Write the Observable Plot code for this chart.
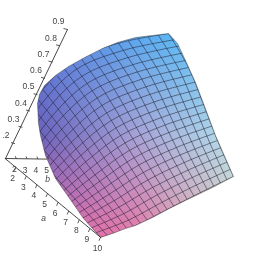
<!DOCTYPE html>
<html><head><meta charset="utf-8">
<style>html,body{margin:0;padding:0;background:#fff}svg{display:block}</style>
<script src="https://cdn.jsdelivr.net/npm/d3@7"></script>
<script src="https://cdn.jsdelivr.net/npm/@observablehq/plot@0.6"></script>
</head><body><script>
const aTicks=[2,3,4,5,6,7,8,9,10];
const bTicks=[2,3,4,5];
const zTicks=[0.2,0.3,0.4,0.5,0.6,0.7,0.8,0.9];
const zLabels=[".2","0.3","0.4","0.5","0.6","0.7","0.8","0.9"];
// surface mesh, in view-plane units: one family of grid lines
const meshRows=[
[100,237,133,226,166.5,209,200,192,233,176],
[95.5,232.2,128.2,219.5,161.8,201.6,195.9,184.5,229.8,168.8],
[91,227.3,123.3,213.1,157,194.2,191.8,177,226.6,161.6],
[86.5,222.5,118.5,206.6,152.3,186.8,187.8,169.5,223.4,154.4],
[82,217.6,113.6,200.2,147.5,179.4,183.7,162,220.2,147.2],
[77.5,212.8,108.8,193.7,142.8,172,179.6,154.5,217,140],
[73,207.9,104.1,187.2,138.2,164.6,175.9,147,214.2,132.8],
[68.5,203,99.3,180.8,133.7,157.2,172.1,139.5,211.4,125.6],
[64,198.2,94.6,174.3,129.1,149.8,168.4,132,208.6,118.4],
[59.5,193.3,89.8,167.9,124.6,142.4,164.6,124.5,205.8,111.2],
[55,188.5,85.1,161.4,120,135,160.9,117,203,104],
[50.5,183.6,80.3,154.9,115.3,127.5,156.9,109.3,200,96.6],
[46,178.8,75.5,148.4,110.7,120,153,101.7,197,89.2],
[41.5,173.9,70.8,141.8,106,112.5,149.1,94,194,81.8],
[37,169.1,66,135.3,101.4,105,145.2,86.4,191,74.4],
[32.5,164.3,61.2,128.8,96.7,97.5,141.3,78.7,188,67],
[28,159.4,56.2,122.4,91.6,90.3,136.6,71.5,185,60],
[23.5,154.6,51.1,116.1,86.4,83.1,132,64.3,181.6,52.7],
[19,149.7,46.1,109.7,81.3,75.9,127.3,57.1,178.2,45.6],
[14.5,144.9,41,103.4,76.1,68.7,122.7,49.9,173.7,39.3],
[10,140,36,97,71,61.5,118,42.7,168,33]];
// the other family of grid lines
const meshCols=[
[100,237,77.5,212.8,55,188.5,32.5,164.3,10,140],
[106.6,234.8,83.8,208.9,61,183.1,38.2,157.2,15.2,131.4],
[113.2,232.6,90,205.1,67,177.7,44,150.1,20.4,122.8],
[119.8,230.4,96.3,201.3,73.1,172.2,49.7,143,25.6,114.2],
[126.4,228.2,102.5,197.5,79.1,166.8,55.5,135.9,30.8,105.6],
[133,226,108.8,193.7,85.1,161.4,61.2,128.8,36,97],
[139.7,222.6,115.6,189.4,92.1,156.1,68.3,122.5,43,89.9],
[146.4,219.2,122.4,185,99.1,150.8,75.4,116.3,50,82.8],
[153.1,215.8,129.2,180.7,106,145.6,82.5,110,57,75.7],
[159.8,212.4,136,176.3,113,140.3,89.6,103.8,64,68.6],
[166.5,209,142.8,172,120,135,96.7,97.5,71,61.5],
[173.2,205.6,150.2,168.5,128.2,131.4,105.6,93.7,80.4,57.7],
[179.9,202.2,157.5,165,136.4,127.8,114.5,90,89.8,54],
[186.6,198.8,164.9,161.5,144.5,124.2,123.5,86.2,99.2,50.2],
[193.3,195.4,172.2,158,152.7,120.6,132.4,82.5,108.6,46.5],
[200,192,179.6,154.5,160.9,117,141.3,78.7,118,42.7],
[206.6,188.8,187.1,151.6,169.3,114.4,150.6,76.4,128,40.8],
[213.2,185.6,194.5,148.7,177.7,111.8,160,74,138,38.8],
[219.8,182.4,202,145.8,186.2,109.2,169.3,71.7,148,36.9],
[226.4,179.2,209.5,142.9,194.6,106.6,178.7,69.3,158,35],
[233,176,217,140,203,104,188,67,168,33]];
const outlineFlat=[100,237,112,233,125,228,135,225,152,217,168,208.5,185,200,210,188,233,176,215,135,203,103,195,82,185,60,177,43,168,33,152,35,135,37,117,42,103,47.5,85,56.5,68,66,55,75,44,85,39,94,37,103,37.5,113,38,123,40,135,45,155,55,178,67,195,83,218,100,237];
// shading colours sampled at three columns and three rows of the picture
const shade=[["#5A7EE0","#5CA8EE","#62CCFA"],["#6C64BC","#A6A2D6","#B2DEEC"],["#DC62A8","#E67CAA","#E0C8B8"]];

const pairs=f=>d3.range(0,f.length,2).map(i=>({x:f[i],y:f[i+1]}));
const lines=t=>t.flatMap((r,k)=>pairs(r).map(p=>({...p,k})));
const outline=pairs(outlineFlat);
const frame=[{x:-1,y:271},{x:-1,y:-1},{x:271,y:-1},{x:271,y:271},{x:-1,y:271}];
const mask=[...frame,...outline,{x:-1,y:271}];

function shadeAt(x,y){
  const u=Math.max(0,Math.min(2,x<135?(x-40)/95:1+(x-135)/95)),v=Math.max(0,Math.min(2,y<135?(y-35)/100:1+(y-135)/100));
  const i=Math.min(1,Math.floor(u)),j=Math.min(1,Math.floor(v)),fu=u-i,fv=v-j;
  const mix=(a,b,t)=>d3.interpolateRgb(a,b)(t);
  return mix(mix(shade[j][i],shade[j][i+1],fu),mix(shade[j+1][i],shade[j+1][i+1],fu),fv);
}
const aAt=a=>[4.6+10.6*(a-1),158+8.75*(a-1)];
const bAt=b=>[5+10.8*(b-1),158+0.2*(b-1)];
const zAt=z=>[67-7.5*(0.9-z)*10,29+16.3*(0.9-z)*10];
const seg=(ax,vals,dx,dy)=>vals.map(v=>{const[p,q]=ax(v);return{x1:p,y1:q,x2:p+dx,y2:q+dy}});
const lab=(ax,vals,texts,dx,dy)=>vals.map((v,i)=>{const[p,q]=ax(v);return{x:p+dx,y:q+dy,t:texts[i]}});
const txt={text:"t",x:"x",y:"y",fontFamily:"Liberation Sans",fontSize:8.5,fill:"#444"};
const axisLine=[[5,158],[46,158.6]],aLine=[aAt(1),aAt(10)],zLine=[[5,158],zAt(0.9)];

const plot=Plot.plot({width:270,height:270,margin:0,style:{filter:"blur(0.3px)"},
  x:{domain:[0,270],range:[0,270],axis:null},y:{domain:[0,270],range:[0,270],axis:null},
  marks:[
    Plot.raster({fill:(x,y)=>shadeAt(x,y),x1:0,x2:270,y1:0,y2:270,pixelSize:1}),
    Plot.line(lines(meshRows),{x:"x",y:"y",z:"k",curve:"catmull-rom",stroke:"#1c1c2c",strokeOpacity:0.62,strokeWidth:0.85}),
    Plot.line(lines(meshCols),{x:"x",y:"y",z:"k",curve:"catmull-rom",stroke:"#1c1c2c",strokeOpacity:0.62,strokeWidth:0.85}),
    Plot.line(mask,{x:"x",y:"y",fill:"white",stroke:"none"}),
    Plot.line(outline,{x:"x",y:"y",stroke:"#333",strokeOpacity:0.6,strokeWidth:0.7}),
    ...[axisLine,aLine,zLine].map(l=>Plot.line(l,{x:d=>d[0],y:d=>d[1],stroke:"#333",strokeWidth:0.9})),
    Plot.link(seg(aAt,aTicks,-1.5,3.5),{x1:"x1",y1:"y1",x2:"x2",y2:"y2",stroke:"#333",strokeWidth:0.8}),
    Plot.link(seg(bAt,bTicks,-1,-2.5),{x1:"x1",y1:"y1",x2:"x2",y2:"y2",stroke:"#333",strokeWidth:0.8}),
    Plot.link(seg(zAt,zTicks,-4,-1),{x1:"x1",y1:"y1",x2:"x2",y2:"y2",stroke:"#333",strokeWidth:0.8}),
    Plot.text(lab(aAt,aTicks,aTicks.map(String),-3,11),txt),
    Plot.text(lab(bAt,bTicks,bTicks.map(String),-2,11),txt),
    Plot.text(lab(zAt,zTicks,zLabels,-9,-8),txt),
    Plot.text([{x:43,y:218,t:"a"},{x:47,y:179,t:"b"}],{...txt,fontStyle:"italic"})
  ]});
document.body.appendChild(plot);
</script></body></html>
